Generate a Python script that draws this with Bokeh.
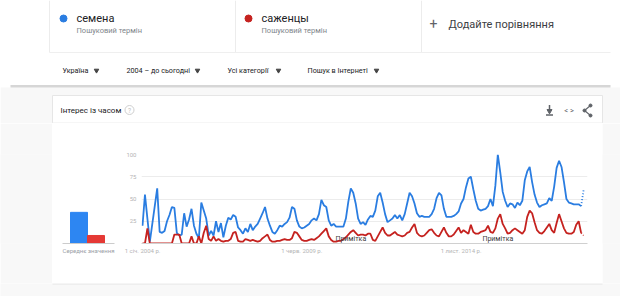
from bokeh.plotting import figure
from bokeh.layouts import column, row
from bokeh.models import Range1d, FixedTicker
from bokeh.core.properties import value
from bokeh.embed import file_html
from bokeh.resources import INLINE

# ---------------- data ----------------
terms = ["семена", "саженцы"]
term_sub = "Пошуковий термін"
filters = ["Україна", "2004 – до сьогодні", "Усі категорії", "Пошук в Інтернеті"]
title_text = "Інтерес із часом"
avg_label = "Середнє значення"
note_label = "Примітка"
note_months = [85, 145]

# monthly values, Jan 2004 .. Jan 2019
semena = [20, 55, 28, 2, 22, 42, 62, 13, 12, 14, 25, 32, 41, 40, 12, 9, 10, 34, 19, 27,
          39, 20, 11, 6, 46, 37, 28, 9, 14, 9, 25, 13, 23, 7, 20, 29, 27, 32, 30, 18,
          15, 11, 17, 13, 22, 15, 19, 22, 28, 34, 41, 28, 20, 13, 11, 15, 20, 19, 22, 24,
          29, 41, 39, 26, 19, 17, 18, 20, 22, 26, 28, 26, 33, 49, 43, 41, 26, 20, 22, 19,
          19, 19, 19, 28, 47, 62, 57, 45, 28, 22, 24, 21, 27, 31, 30, 37, 53, 57, 46, 33,
          24, 26, 28, 32, 28, 32, 26, 33, 45, 57, 53, 45, 34, 30, 31, 30, 30, 30, 33, 39,
          51, 57, 54, 39, 30, 30, 30, 31, 33, 36, 45, 50, 63, 73, 75, 61, 48, 39, 37, 38,
          39, 42, 50, 42, 65, 100, 80, 58, 48, 41, 45, 44, 40, 46, 43, 48, 71, 81, 86, 69,
          55, 46, 41, 43, 44, 45, 51, 48, 64, 85, 93, 86, 69, 50, 46, 45, 44, 44, 44, 42,
          60]
sazhentsy = [0, 0, 17, 0, 0, 0, 0, 0, 0, 0, 0, 0, 0, 10, 10, 10, 0, 0, 0, 0,
             8, 0, 0, 8, 0, 12, 20, 5, 3, 8, 3, 5, 3, 2, 3, 3, 5, 12, 13, 3,
             2, 2, 5, 4, 3, 4, 3, 2, 3, 6, 8, 10, 4, 2, 2, 3, 3, 4, 5, 4,
             4, 6, 13, 12, 8, 4, 3, 3, 4, 5, 4, 6, 8, 11, 14, 17, 8, 4, 2, 2,
             3, 3, 5, 7, 10, 13, 15, 12, 9, 10, 10, 9, 11, 11, 4, 3, 8, 13, 18, 12,
             9, 9, 11, 13, 10, 9, 8, 9, 12, 13, 18, 22, 12, 9, 8, 9, 12, 15, 16, 12,
             9, 8, 13, 18, 12, 8, 8, 10, 14, 18, 12, 15, 13, 11, 21, 13, 11, 11, 13, 14,
             15, 20, 13, 12, 17, 28, 33, 22, 17, 11, 12, 15, 17, 15, 13, 11, 15, 30, 37, 34,
             24, 15, 12, 11, 14, 18, 22, 15, 12, 23, 33, 25, 17, 12, 11, 11, 13, 21, 25, 12,
             9]
averages = [35, 9]
y_ticks = [25, 50, 75, 100]
x_tick_months = [0, 65, 130]
x_tick_labels = ["1 січ. 2004 р.", "1 черв. 2009 р.", "1 лист. 2014 р."]

months = list(range(len(semena)))

BLUE = "#2a7de1"
RED = "#c5221f"
BAR_BLUE = "#2d86f2"
BAR_RED = "#e53935"
BG = "#f8f8f8"
FONT = value("Roboto")
TOP, BOTTOM = 31, 40  # borders shared by the chart row (frames are aligned)


def pix_fig(w, h, x0, x1, y0, y1, bg="white"):
    p = figure(width=w, height=h, x_range=Range1d(x0, x1), y_range=Range1d(y1, y0),
               output_backend="svg", toolbar_location=None, min_border=0)
    p.axis.visible = False
    p.grid.visible = False
    p.outline_line_color = None
    p.background_fill_color = bg
    p.border_fill_color = bg
    return p


def txt(p, x, y, s, size, color, align="left", style="normal"):
    p.text(x=[x], y=[y], text=[s], text_font=FONT, text_font_size=size,
           text_color=color, text_align=align, text_baseline="middle",
           text_font_style=style)


def style_axis(ax):
    ax.major_tick_line_color = None
    ax.minor_tick_line_color = None
    ax.major_tick_out = 0
    ax.major_tick_in = 0
    ax.major_label_text_font = "Roboto"
    ax.major_label_text_font_size = "6px"
    ax.major_label_text_color = "#b5b5b5"


# ---------------- header ----------------
A = pix_fig(620, 123, 0, 620, 0, 123)
A.quad(left=[0], right=[620], top=[87], bottom=[123], fill_color=BG, line_color=None)
A.quad(left=[10], right=[610], top=[84.5], bottom=[87], fill_color="#d6d6d6", line_color=None)
for xs in [49, 235, 421]:
    A.segment(x0=[xs], y0=[0], x1=[xs], y1=[52], line_color="#ececec", line_width=1)
A.segment(x0=[49], y0=[52], x1=[610], y1=[52], line_color="#efefef", line_width=1)
dot_x = [63, 248]
A.scatter(x=dot_x, y=[18, 18], size=7, color=[BLUE, RED])
for i, t in enumerate(terms):
    txt(A, dot_x[i] + 13, 18, t, "11px", "#202124")
    txt(A, dot_x[i] + 13, 30, term_sub, "7.5px", "#80868b")
txt(A, 433, 23, "+", "14px", "#5f6368", align="center")
txt(A, 448, 24, "Додайте порівняння", "11px", "#3c4043")
fx = [62, 126, 227, 307]
arrow_x = [96, 197, 278, 376]
for i, f in enumerate(filters):
    txt(A, fx[i], 70, f, "7.2px", "#202124")
A.scatter(x=arrow_x, y=[70] * 4, marker="inverted_triangle", size=4.5, color="#444")
# card top
A.quad(left=[52], right=[602], top=[95], bottom=[123], fill_color="white",
       line_color="#e6e6e6", line_width=1)
A.segment(x0=[52], y0=[122.5], x1=[602], y1=[122.5], line_color="#ececec", line_width=1)
txt(A, 60, 110, title_text, "8px", "#202124")
A.circle(x=[129], y=[109.5], radius=4.5, fill_color=None, line_color="#cfcfcf", line_width=1)
txt(A, 129, 110, "?", "6.5px", "#bdbdbd", align="center")
# icons
A.segment(x0=[549], y0=[104.5], x1=[549], y1=[110], line_color="#5f6368", line_width=1.5)
A.scatter(x=[549], y=[110.5], marker="inverted_triangle", size=5, color="#5f6368")
A.segment(x0=[545.5], y0=[114.5], x1=[552.5], y1=[114.5], line_color="#5f6368", line_width=1.3)
txt(A, 568.5, 110, "< >", "7.5px", "#5f6368", align="center")
A.segment(x0=[590, 590], y0=[105, 115], x1=[584, 584], y1=[110, 110], line_color="#5f6368", line_width=1.1)
A.circle(x=[590, 584, 590], y=[105, 110, 115], radius=1.5, color="#5f6368")

# ---------------- gray side strips ----------------
G = pix_fig(52, 160, 0, 52, 123, 283, bg=BG)
R = pix_fig(18, 160, 602, 620, 123, 283, bg=BG)
for s in (G, R):
    s.min_border_top = TOP
    s.min_border_bottom = BOTTOM

# ---------------- left: average bars ----------------
L = figure(width=68, height=160, x_range=Range1d(52, 120), y_range=Range1d(0, 100),
           output_backend="svg", toolbar_location=None,
           min_border_left=0, min_border_right=0, min_border_top=TOP, min_border_bottom=BOTTOM)
L.outline_line_color = None
L.grid.visible = False
L.yaxis.visible = False
L.background_fill_color = "white"
L.border_fill_color = "white"
bar_x = [70 + 17 * i + 8.5 for i in range(len(averages))]
L.vbar(x=bar_x, bottom=0, top=averages, width=17, color=[BAR_BLUE, BAR_RED])
L.xaxis.ticker = FixedTicker(ticks=[88])
L.xaxis.major_label_overrides = {88: avg_label}
L.xaxis.bounds = (62, 114)
L.xaxis.axis_line_color = "#cccccc"
style_axis(L.xaxis)
L.xaxis.major_label_text_color = "#9aa0a6"
L.xaxis.major_label_standoff = 3

# ---------------- main line chart ----------------
M = figure(width=482, height=160, x_range=Range1d(-0.41, 181.6), y_range=Range1d(0, 100),
           output_backend="svg", toolbar_location=None,
           min_border_left=21, min_border_right=15, min_border_top=TOP, min_border_bottom=BOTTOM)
M.outline_line_color = None
M.background_fill_color = "white"
M.border_fill_color = "white"
M.xgrid.visible = False
M.ygrid.ticker = FixedTicker(ticks=y_ticks)
M.ygrid.grid_line_color = "#ececec"
M.yaxis.ticker = FixedTicker(ticks=y_ticks)
M.yaxis.axis_line_color = None
style_axis(M.yaxis)
M.yaxis.major_label_standoff = 5
M.xaxis.ticker = FixedTicker(ticks=x_tick_months)
M.xaxis.major_label_overrides = {m: l for m, l in zip(x_tick_months, x_tick_labels)}
M.xaxis.axis_line_color = "#d0d0d0"
style_axis(M.xaxis)
M.xaxis.major_label_standoff = 3

n = len(months)
M.line(months[:n - 1], semena[:n - 1], line_color=BLUE, line_width=1.8)
M.line(months[n - 2:], semena[n - 2:], line_color=BLUE, line_width=1.8, line_dash="1 2")
M.line(months[:n - 1], sazhentsy[:n - 1], line_color=RED, line_width=1.8)
M.line(months[n - 2:], sazhentsy[n - 2:], line_color=RED, line_width=1.8, line_dash="1 2")
M.text(x=note_months, y=[5.5] * len(note_months), text=[note_label] * len(note_months),
       text_font=FONT, text_font_size="7px", text_color="#3c3c3c",
       text_align="center", text_baseline="middle")

# ---------------- bottom strip ----------------
B = pix_fig(620, 13, 0, 620, 283, 296, bg=BG)
B.segment(x0=[52], y0=[283.5], x1=[602], y1=[283.5], line_color="#e3e3e3", line_width=1)

layout = column(A, row(G, L, M, R, spacing=0), B, spacing=0)
open("out.html", "w").write(file_html(layout, INLINE))
